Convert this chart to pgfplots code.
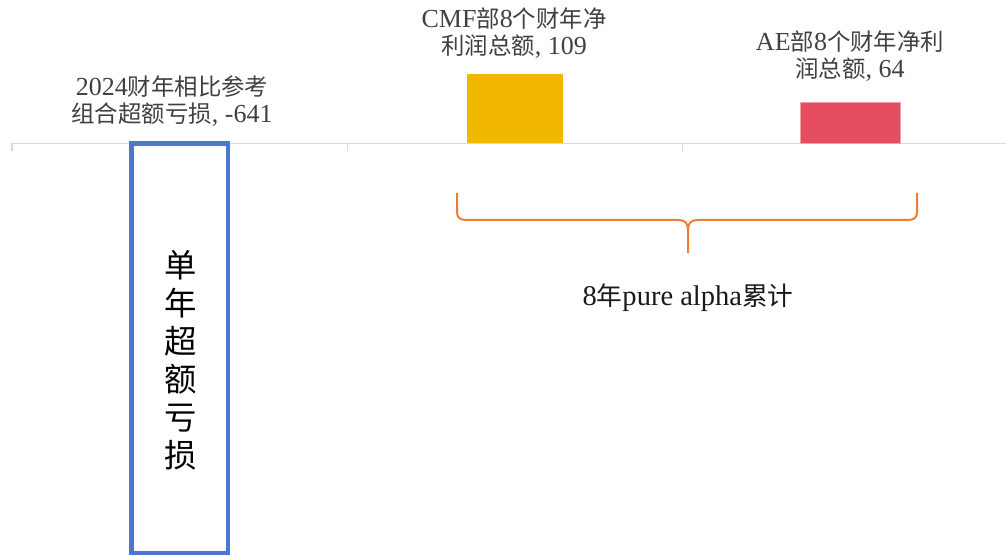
\documentclass[border=0pt]{standalone}
\usepackage{fontspec}
\setmainfont{Liberation Serif}
\newfontfamily\cjk[Scale=0.9]{Noto Sans CJK SC}
\usepackage{pgfplots}
\pgfplotsset{compat=1.18}
\definecolor{barblue}{HTML}{4A78CF}
\definecolor{bargold}{HTML}{F2B800}
\definecolor{barred}{HTML}{E64C5F}
\definecolor{braceor}{HTML}{ED7D31}
\definecolor{axgrey}{HTML}{D9D9D9}
\definecolor{lblgrey}{HTML}{404040}
\begin{document}
\begin{tikzpicture}
\useasboundingbox (0,0) rectangle (754.5pt,417pt);
\begin{axis}[at={(9pt,0pt)}, anchor=south west, scale only axis,
  width=745.5pt, height=417pt,
  xmin=-0.5, xmax=2.4644, ymin=-645.7, ymax=224.6,
  axis lines=none, ybar, bar shift=0pt, clip=false]
\draw[axgrey, line width=0.9pt] (axis cs:-0.5,0) -- (axis cs:2.4644,0);
\draw[axgrey, line width=0.9pt] (axis cs:-0.5,0) -- ++(0pt,-6pt);
\draw[axgrey, line width=0.9pt] (axis cs:0.5,0) -- ++(0pt,-6pt);
\draw[axgrey, line width=0.9pt] (axis cs:1.5,0) -- ++(0pt,-6pt);
\addplot[fill=white, draw=barblue, line width=3.4pt, bar width=0.288] coordinates {(0,-641)};
\addplot[fill=bargold, draw=none, bar width=0.286] coordinates {(1,109)};
\addplot[fill=barred, draw=barred!55!white, line width=0.5pt, bar width=0.298] coordinates {(2,64)};
\end{axis}
\begin{scope}[x=0.75pt, y=-0.75pt, shift={(0pt,417pt)}]
% data labels
\node[align=center, text=lblgrey, font=\fontsize{19.5}{20.25}\selectfont] at (172,101)
  {2024{\cjk 财年相比参考}\\{\cjk 组合超额亏损}, -641};
\node[align=center, text=lblgrey, font=\fontsize{19.5}{20.25}\selectfont] at (514,33.5)
  {CMF{\cjk 部}8{\cjk 个财年净}\\{\cjk 利润总额}, 109};
\node[align=center, text=lblgrey, font=\fontsize{19.5}{20.25}\selectfont] at (850,56)
  {AE{\cjk 部}8{\cjk 个财年净利}\\{\cjk 润总额}, 64};
% vertical text in bar
\node[align=center, text=black, font=\fontsize{27}{28.5}\selectfont\cjk] at (181,360.5)
  {单\\年\\超\\额\\亏\\损};
% brace
\draw[braceor, line width=1.5pt]
  (457,193) -- (457,212) .. controls (457,218) and (460,220) .. (467,220)
  -- (678,220) .. controls (685,220) and (688,223) .. (688,230) -- (688,253);
\draw[braceor, line width=1.5pt]
  (917,193) -- (917,212) .. controls (917,218) and (914,220) .. (907,220)
  -- (698,220) .. controls (691,220) and (688,223) .. (688,230);
\node[text=black!90, font=\fontsize{21.4}{24}\selectfont] at (688,298)
  {8{\cjk 年}pure alpha{\cjk 累计}};
\end{scope}
\end{tikzpicture}
\end{document}
